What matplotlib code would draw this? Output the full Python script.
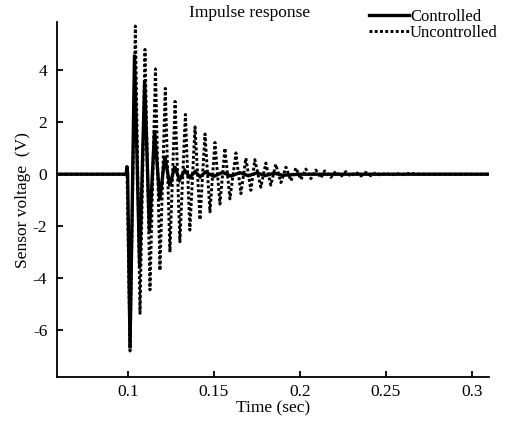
import matplotlib.pyplot as plt

plt.rcParams['font.family'] = ['Liberation Serif', 'DejaVu Serif']
plt.rcParams['axes.unicode_minus'] = False

# turning points (time in sec, voltage in V)
t_unc = [0.060, 0.0990, 0.0994, 0.1012, 0.1043, 0.1070, 0.1099, 0.1128, 0.1160,
         0.1186, 0.1217, 0.1244, 0.1274, 0.1302, 0.1334, 0.1360, 0.1390, 0.1419,
         0.1448, 0.1477, 0.1506, 0.1535, 0.1564, 0.1593, 0.1628, 0.1657, 0.1686,
         0.1715, 0.1738, 0.1773, 0.1802, 0.1831, 0.1860, 0.1890, 0.1919, 0.1948,
         0.1977, 0.2006, 0.2035, 0.2064, 0.2093, 0.2122, 0.2145, 0.2180, 0.2209,
         0.2238, 0.2267, 0.2296, 0.2326, 0.2355, 0.2384, 0.2413, 0.2442, 0.2471,
         0.2500, 0.2530, 0.2560, 0.2590, 0.2620, 0.2700, 0.3100]
v_unc = [0.0, 0.0, 0.3, -6.8, 5.7, -5.35, 4.8, -4.45, 4.05,
         -3.7, 3.3, -3.0, 2.8, -2.6, 2.3, -2.15, 1.82, -1.75,
         1.55, -1.45, 1.22, -1.15, 1.0, -0.95, 0.82, -0.75, 0.62,
         -0.62, 0.56, -0.5, 0.43, -0.42, 0.38, -0.32, 0.27, -0.25,
         0.24, -0.2, 0.2, -0.17, 0.16, -0.14, 0.13, -0.12, 0.11,
         -0.1, 0.1, -0.08, 0.08, -0.07, 0.07, -0.06, 0.06, -0.05,
         0.05, -0.04, 0.04, -0.03, 0.03, 0.0, 0.0]

t_con = [0.060, 0.0990, 0.0994, 0.0998, 0.1012, 0.1038, 0.1068, 0.1097, 0.1125,
         0.1155, 0.1185, 0.1215, 0.1243, 0.1272, 0.1300, 0.1330, 0.1360, 0.1390,
         0.1420, 0.1450, 0.1500, 0.1550, 0.1600, 0.1650, 0.1700, 0.1750, 0.1800,
         0.1850, 0.1900, 0.2000, 0.3100]
v_con = [0.0, 0.0, 0.3, 0.0, -6.7, 4.6, -3.6, 3.6, -2.2,
         1.7, -1.0, 0.7, -0.45, 0.3, -0.22, 0.15, -0.12, 0.1,
         -0.1, 0.08, -0.08, 0.07, -0.07, 0.06, -0.06, 0.05, -0.05,
         0.04, -0.04, 0.0, 0.0]

x_ticks = [0.1, 0.15, 0.2, 0.25, 0.3]
x_labels = ['0.1', '0.15', '0.2', '0.25', '0.3']
y_ticks = [-6, -4, -2, 0, 2, 4]

fs = 12.5

fig = plt.figure(figsize=(5.07, 4.23), dpi=100)
ax = fig.add_axes([0.1124, 0.1087, 0.852, 0.839])

ax.plot(t_con, v_con, color='black', lw=2.4, solid_joinstyle='miter', label='Controlled')
ax.plot(t_unc, v_unc, color='black', lw=2.1, linestyle=(0, (1, 0.8)), label='Uncontrolled')

ax.set_xlim(0.0587, 0.31)
ax.set_ylim(-7.8, 5.85)
ax.set_xticks(x_ticks)
ax.set_xticklabels(x_labels)
ax.set_yticks(y_ticks)

for s in ['top', 'right']:
    ax.spines[s].set_visible(False)
for s in ['left', 'bottom']:
    ax.spines[s].set_linewidth(1.3)
ax.tick_params(direction='in', length=4, width=1.3, labelsize=fs)
ax.tick_params(axis='y', pad=7)
ax.tick_params(axis='x', pad=5)

ax.set_xlabel('Time (sec)', fontsize=fs, labelpad=0)
ax.set_ylabel('Sensor voltage  (V)', fontsize=fs, labelpad=1)
fig.text(0.493, 0.97, 'Impulse response', ha='center', va='center', fontsize=fs)

ax.legend(loc='upper right', bbox_to_anchor=(1.0, 1.0), bbox_transform=fig.transFigure,
          frameon=False, fontsize=12, handlelength=2.4, handletextpad=0.05,
          labelspacing=0.0, borderaxespad=0.15)

fig.savefig('out.png', dpi=100)
